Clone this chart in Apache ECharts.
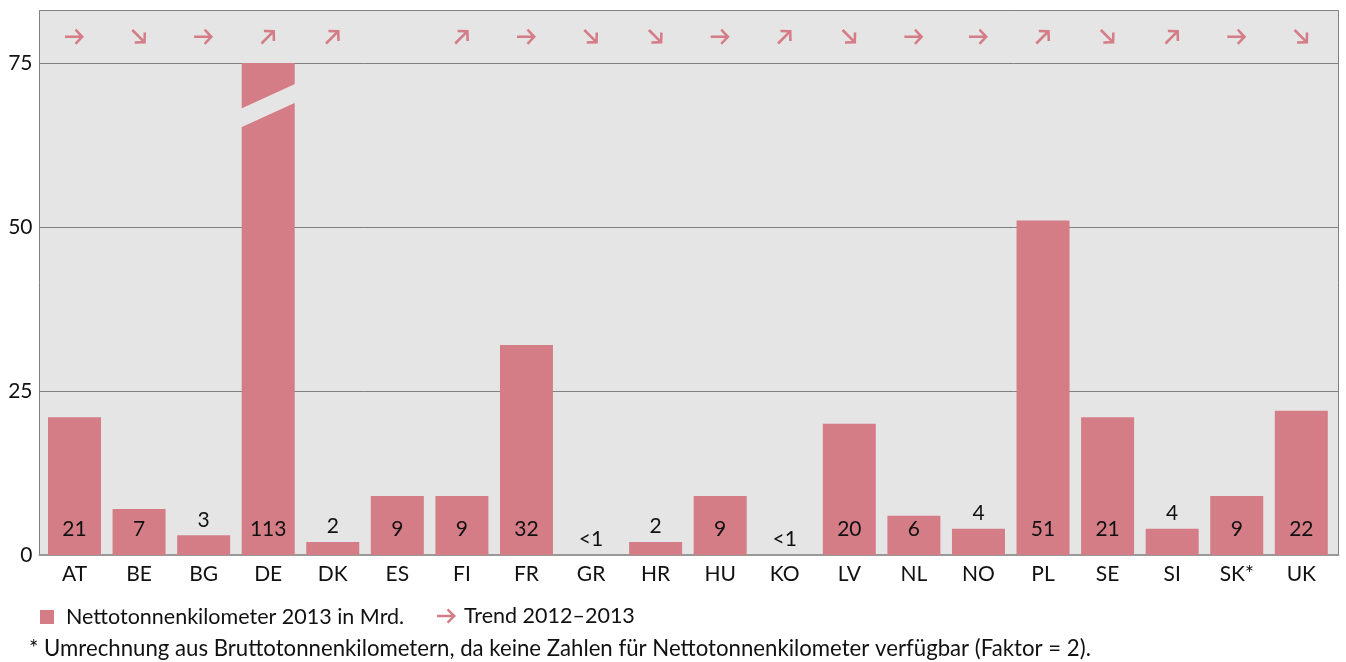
<!DOCTYPE html>
<html>
<head>
<meta charset="utf-8">
<script src="https://cdn.jsdelivr.net/npm/echarts@6/dist/echarts.min.js"></script>
<style>
html, body { margin: 0; background: #fff; }
#main { width: 1346px; height: 662px; }
</style>
</head>
<body>
<div id="main"></div>
<script>
const countries = ['AT', 'BE', 'BG', 'DE', 'DK', 'ES', 'FI', 'FR', 'GR', 'HR', 'HU', 'KO', 'LV', 'NL', 'NO', 'PL', 'SE', 'SI', 'SK*', 'UK'];
const netTkm = [21, 7, 3, 113, 2, 9, 9, 32, 0, 2, 9, 0, 20, 6, 4, 51, 21, 4, 9, 22];
const valueLabels = ['21', '7', '3', '113', '2', '9', '9', '32', '<1', '2', '9', '<1', '20', '6', '4', '51', '21', '4', '9', '22'];
// 1 = rising, 0 = flat, -1 = falling, null = no trend given
const trend = [0, -1, 0, 1, 1, null, 1, 0, -1, -1, 0, 1, -1, 0, 0, 1, -1, 1, 0, -1];
const yTicks = [0, 25, 50, 75];

const CAP = 75;          // bars above this are cut off
const Y_MAX = 83;
const BREAK_AT = 68.5;   // where the cut mark sits
const TREND_ROW = 79;    // y value of the arrow row
const BAR = '#d47d87';
const BG = '#e5e5e5';
const TXT = '#111';
const FONT = 'Lato';
const arrowPath = 'path://M0 6.7L15 6.7L10.16 1.84L12 0L20 8L12 16L10.16 14.16L15 9.3L0 9.3Z';

const chartDom = document.getElementById('main');
const myChart = echarts.init(chartDom);

const barData = netTkm.map((v) => ({
    value: Math.min(v, CAP),
    label: v >= 5
        ? { position: 'insideBottom', distance: 15 }
        : { position: 'top', distance: 5 }
}));

const trendData = [];
trend.forEach((t, i) => {
    if (t === null) return;
    trendData.push({ value: [i, TREND_ROW], symbolRotate: t * 45 });
});

const cutData = [];
netTkm.forEach((v, i) => {
    if (v > CAP) cutData.push([i, CAP]);
});

const option = {
    animation: false,
    textStyle: { fontFamily: FONT },
    grid: [
        // frame: background, border, gridlines, y labels
        {
            left: 39.5,
            right: 7.5,
            top: 10.5,
            bottom: 107,
            show: true,
            backgroundColor: BG,
            borderColor: '#808080',
            borderWidth: 1
        },
        // bars
        {
            left: 42.2,
            right: 12.4,
            top: 10.5,
            bottom: 107
        }
    ],
    legend: [
        {
            data: [{ name: 'Nettotonnenkilometer 2013 in Mrd.', icon: 'rect' }],
            left: 40,
            top: 606,
            padding: 0,
            itemWidth: 14,
            itemHeight: 14,
            selectedMode: false,
            textStyle: { fontFamily: FONT, fontSize: 21.5, color: TXT, padding: [0, 0, 0, 7] }
        },
        {
            data: [{ name: 'Trend 2012–2013', icon: arrowPath }],
            left: 437,
            top: 605,
            padding: 0,
            itemWidth: 19,
            itemHeight: 16,
            selectedMode: false,
            textStyle: { fontFamily: FONT, fontSize: 21.5, color: TXT, padding: [0, 0, 0, 3] }
        }
    ],
    graphic: [
        {
            type: 'text',
            left: 29,
            top: 638,
            style: {
                text: '* Umrechnung aus Bruttotonnenkilometern, da keine Zahlen für Nettotonnenkilometer verfügbar (Faktor = 2).',
                font: '22.2px ' + FONT,
                fill: TXT
            }
        }
    ],
    xAxis: [
        {
            gridIndex: 0,
            type: 'value',
            min: 0,
            max: 1,
            axisLine: { show: true, lineStyle: { color: '#999', width: 2 } },
            axisTick: { show: false },
            axisLabel: { show: false },
            splitLine: { show: false }
        },
        {
            gridIndex: 1,
            type: 'category',
            data: countries,
            axisLine: { show: false },
            axisTick: { show: false },
            axisLabel: { fontSize: 21, color: TXT, margin: 9 }
        }
    ],
    yAxis: [
        {
            gridIndex: 0,
            type: 'value',
            min: yTicks[0],
            max: Y_MAX,
            interval: yTicks[1] - yTicks[0],
            axisLine: { show: false },
            axisTick: { show: false },
            splitLine: { lineStyle: { color: '#808080', width: 1 } },
            axisLabel: { fontSize: 21, color: TXT, margin: 7, showMaxLabel: false }
        },
        {
            gridIndex: 1,
            type: 'value',
            min: yTicks[0],
            max: Y_MAX,
            show: false,
            splitLine: { show: false }
        }
    ],
    series: [
        {
            name: 'Nettotonnenkilometer 2013 in Mrd.',
            type: 'bar',
            xAxisIndex: 1,
            yAxisIndex: 1,
            data: barData,
            barWidth: 53,
            itemStyle: { color: BAR },
            label: {
                show: true,
                fontSize: 21,
                color: TXT,
                fontFamily: FONT,
                formatter: (p) => valueLabels[p.dataIndex]
            },
            z: 2
        },
        {
            type: 'custom',
            xAxisIndex: 1,
            yAxisIndex: 1,
            data: cutData,
            silent: true,
            z: 3,
            renderItem: (params, api) => {
                const idx = api.value(0);
                const cx = api.coord([idx, 0])[0];
                const half = api.size([1, 0])[0] * 0.45;
                const mid = api.coord([idx, BREAK_AT])[1];
                const rise = half * 0.453;
                const gap = 9.4;
                return {
                    type: 'polygon',
                    shape: {
                        points: [
                            [cx - half, mid - gap + rise],
                            [cx + half, mid - gap - rise],
                            [cx + half, mid + gap - rise],
                            [cx - half, mid + gap + rise]
                        ]
                    },
                    style: { fill: BG }
                };
            }
        },
        {
            name: 'Trend 2012–2013',
            type: 'scatter',
            xAxisIndex: 1,
            yAxisIndex: 1,
            data: trendData,
            symbol: arrowPath,
            symbolSize: [19, 16],
            itemStyle: { color: BAR, opacity: 1 },
            silent: true,
            z: 4
        }
    ]
};

option && myChart.setOption(option);
</script>
</body>
</html>
